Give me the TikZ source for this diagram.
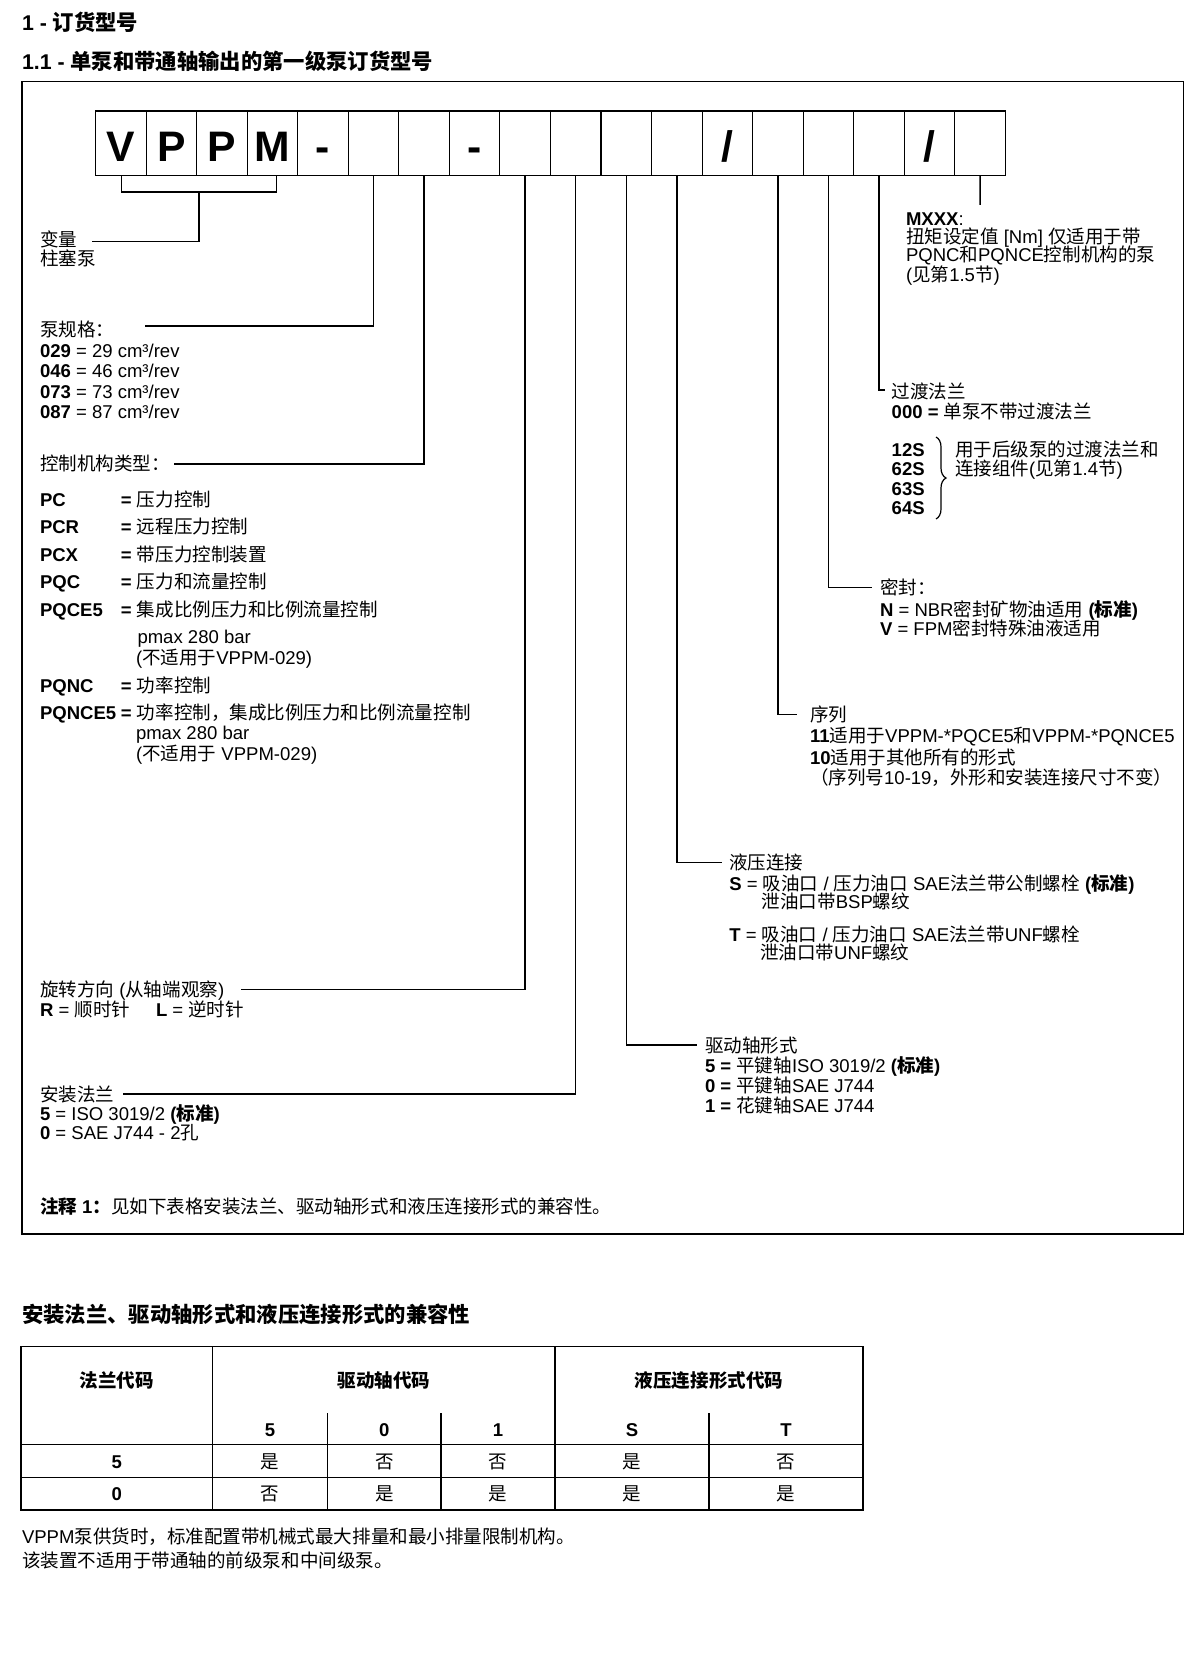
\documentclass[tikz,border=0pt]{standalone}
\usepackage{fontspec}
\setmainfont{Liberation Sans}
\newfontfamily\cjkfont{Noto Sans CJK SC}
\usetikzlibrary{decorations.pathreplacing,calc}
\XeTeXinterchartokenstate=1
\newXeTeXintercharclass\cjkclass
\makeatletter
\def\setcjkrange#1#2{\count@=#1\relax
  \loop\XeTeXcharclass\count@=\cjkclass
  \ifnum\count@<#2\relax\advance\count@\@ne\repeat}
\setcjkrange{"3000}{"303F}
\setcjkrange{"4E00}{"9FFF}
\setcjkrange{"FF00}{"FFEF}
\makeatother
\XeTeXinterchartoks 0 \cjkclass = {\begingroup\cjkfont}
\XeTeXinterchartoks 4095 \cjkclass = {\begingroup\cjkfont}
\XeTeXinterchartoks \cjkclass 0 = {\endgroup}
\XeTeXinterchartoks \cjkclass 4095 = {\endgroup}
\newcommand\ctlrow[2]{\makebox[60.75pt][l]{\textbf{#1}}\textbf{=} #2}
\begin{document}
\begin{tikzpicture}[x=0.75pt,y=-0.75pt,
  every node/.style={inner sep=0pt, outer sep=0pt},
  txt/.style={anchor=base west, font=\fontsize{13.9}{16}\selectfont},
  ctxt/.style={anchor=base, font=\fontsize{13.9}{16}\selectfont},
  ttl/.style={anchor=base west, font=\fontsize{16}{19}\selectfont\bfseries},
  cbox/.style={draw, line width=0.8pt, minimum width=37.9pt, minimum height=48.4pt,
    font=\fontsize{32}{36}\selectfont\bfseries, text height=27.7pt, text depth=0pt, anchor=north west},
  conn/.style={line width=1.1pt},
  grid/.style={line width=1.1pt}
]
\fill[white] (0,0) rectangle (1200,1655);
\useasboundingbox (0,0) rectangle (1200,1655);

% titles
\node[ttl] (t1) at (22,31) {1 - 订货型号};
\node[ttl] (t2) at (22,69.5) {1.1 - 单泵和带通轴输出的第一级泵订货型号};

% frame
\draw[line width=1.1pt] (21.8,81.7) rectangle (1183.3,1233.8);

% code boxes
\node[cbox] (b1)  at (95.5,111) {V};
\node[cbox] (b2)  at (146.05,111) {P};
\node[cbox] (b3)  at (196.6,111) {P};
\node[cbox] (b4)  at (247.15,111) {M};
\node[cbox] (b5)  at (297.7,111) {-};
\node[cbox] (b6)  at (348.25,111) {};
\node[cbox] (b7)  at (398.8,111) {};
\node[cbox] (b8)  at (449.35,111) {-};
\node[cbox] (b9)  at (499.9,111) {};
\node[cbox] (b10) at (550.45,111) {};
\node[cbox] (b11) at (601,111) {};
\node[cbox] (b12) at (651.55,111) {};
\node[cbox] (b13) at (702.1,111) {/};
\node[cbox] (b14) at (752.65,111) {};
\node[cbox] (b15) at (803.2,111) {};
\node[cbox] (b16) at (853.75,111) {};
\node[cbox] (b17) at (904.3,111) {/};
\node[cbox] (b18) at (954.85,111) {};

% connector end points
\coordinate (bra) at (199,192);
\coordinate (cvar) at (92,241.5);
\coordinate (c6) at (145,326);
\coordinate (c7) at (174.3,464);
\coordinate (c9) at (241,989.3);
\coordinate (c10) at (122.8,1094);
\coordinate (c11) at (697.3,1045);
\coordinate (c12) at (721.7,862.7);
\coordinate (c14) at (797.3,714.3);
\coordinate (c15) at (871.7,587.7);
\coordinate (c16) at (885,390);
\coordinate (c18) at (980.1,205);

\draw[conn] ([xshift=0.7pt]b1.south) |- (bra) -| ([xshift=3.2pt]b4.south);
\draw[conn] (bra) |- (cvar);
\draw[conn] (b6.south) |- (c6);
\draw[conn] (b7.south) |- (c7);
\draw[conn] (b9.south) |- (c9);
\draw[conn] (b10.south) |- (c10);
\draw[conn] (b11.south) |- (c11);
\draw[conn] (b12.south) |- (c12);
\draw[conn] (b14.south) |- (c14);
\draw[conn] (b15.south) |- (c15);
\draw[conn] (b16.south) |- (c16);
\draw[conn] (b18.south) -- (c18);

% left texts
\node[txt] (var1) at (40,247) {变量};
\node[txt] (var2) at (40,265.3) {柱塞泵};
\node[txt] (sz0) at (40,336) {泵规格：};
\node[txt] (sz1) at (40,357) {\textbf{029} = 29 cm³/rev};
\node[txt] (sz2) at (40,377.7) {\textbf{046} = 46 cm³/rev};
\node[txt] (sz3) at (40,398) {\textbf{073} = 73 cm³/rev};
\node[txt] (sz4) at (40,418.7) {\textbf{087} = 87 cm³/rev};
\node[txt] (ct0) at (40,470.3) {控制机构类型：};
\node[txt] (ct1) at (40,506.3) {\ctlrow{PC}{压力控制}};
\node[txt] (ct2) at (40,533.7) {\ctlrow{PCR}{远程压力控制}};
\node[txt] (ct3) at (40,561) {\ctlrow{PCX}{带压力控制装置}};
\node[txt] (ct4) at (40,588.7) {\ctlrow{PQC}{压力和流量控制}};
\node[txt] (ct5) at (40,616.3) {\ctlrow{PQCE5}{集成比例压力和比例流量控制}};
\node[txt] (ct5a) at (137.5,643.7) {pmax 280 bar};
\node[txt] (ct5b) at (136,664.3) {(不适用于VPPM-029)};
\node[txt] (ct6) at (40,692) {\ctlrow{PQNC}{功率控制}};
\node[txt] (ct7) at (40,719.3) {\ctlrow{PQNCE5}{功率控制，集成比例压力和比例流量控制}};
\node[txt] (ct7a) at (136,739.7) {pmax 280 bar};
\node[txt] (ct7b) at (136,760.3) {(不适用于 VPPM-029)};
\node[txt] (rot0) at (40,996.3) {旋转方向 (从轴端观察)};
\node[txt] (rot1) at (40,1016.3) {\textbf{R} = 顺时针};
\node[txt] (rot2) at (156,1016.3) {\textbf{L} = 逆时针};
\node[txt] (mf0) at (40,1101) {安装法兰};
\node[txt] (mf1) at (40,1120.3) {\textbf{5} = ISO 3019/2 \textbf{(标准)}};
\node[txt] (mf2) at (40,1139.7) {\textbf{0} = SAE J744 - 2孔};
\node[txt] (note) at (40,1213.7) {\textbf{注释 1：}见如下表格安装法兰、驱动轴形式和液压连接形式的兼容性。};

% right texts
\node[txt] (mx0) at (906,225.3) {\textbf{MXXX}:};
\node[txt] (mx1) at (906,243.7) {扭矩设定值 [Nm] 仅适用于带};
\node[txt] (mx2) at (906,262) {PQNC和PQNCE控制机构的泵};
\node[txt] (mx3) at (906,281.3) {(见第1.5节)};
\node[txt] (tf0) at (891.7,398.7) {过渡法兰};
\node[txt] (tf1) at (891.7,418.7) {\textbf{000 =} 单泵不带过渡法兰};
\node[txt] (tf2) at (891.7,456.3) {\textbf{12S}};
\node[txt] (tf3) at (891.7,475.3) {\textbf{62S}};
\node[txt] (tf4) at (891.7,495.3) {\textbf{63S}};
\node[txt] (tf5) at (891.7,514.7) {\textbf{64S}};
\coordinate (br1) at (936,437);
\coordinate (br2) at (936,519);
\draw[line width=0.9pt, decorate, decoration={brace, amplitude=7.5pt}] (br1) -- (br2);
\node[txt] (tf6) at (955,456.3) {用于后级泵的过渡法兰和};
\node[txt] (tf7) at (955,475.3) {连接组件(见第1.4节)};
\node[txt] (se0) at (880,594.7) {密封：};
\node[txt] (se1) at (880,616.3) {\textbf{N} = NBR密封矿物油适用 \textbf{(标准)}};
\node[txt] (se2) at (880,635.3) {\textbf{V} = FPM密封特殊油液适用};
\node[txt] (sq0) at (810,721.3) {序列};
\node[txt] (sq1) at (810,742) {\textbf{11}适用于VPPM-*PQCE5和VPPM-*PQNCE5};
\node[txt] (sq2) at (810,764.3) {\textbf{10}适用于其他所有的形式};
\node[txt] (sq3) at (810,784.7) {（序列号10-19，外形和安装连接尺寸不变）};
\node[txt] (hy0) at (729.3,869.7) {液压连接};
\node[txt] (hy1) at (729.3,890.3) {\textbf{S} = 吸油口 / 压力油口 SAE法兰带公制螺栓 \textbf{(标准)}};
\node[txt] (hy2) at (761.7,908.7) {泄油口带BSP螺纹};
\node[txt] (hy3) at (729.3,941) {\textbf{T} = 吸油口 / 压力油口 SAE法兰带UNF螺栓};
\node[txt] (hy4) at (760,959.7) {泄油口带UNF螺纹};
\node[txt] (ds0) at (705,1052) {驱动轴形式};
\node[txt] (ds1) at (705,1072.7) {\textbf{5 =} 平键轴ISO 3019/2 \textbf{(标准)}};
\node[txt] (ds2) at (705,1092.7) {\textbf{0 =} 平键轴SAE J744};
\node[txt] (ds3) at (705,1112) {\textbf{1 =} 花键轴SAE J744};

% compatibility table
\node[ttl] (tt) at (22,1322.7) {安装法兰、驱动轴形式和液压连接形式的兼容性};
\draw[grid] (21,1346.7) rectangle (863,1510);
\draw[grid] (212.5,1346.7) -- (212.5,1510);
\draw[grid] (555,1346.7) -- (555,1510);
\draw[grid] (327.4,1413.3) -- (327.4,1510);
\draw[grid] (441.2,1413.3) -- (441.2,1510);
\draw[grid] (709.2,1413.3) -- (709.2,1510);
\draw[grid] (21,1444.3) -- (863,1444.3);
\draw[grid] (21,1477.3) -- (863,1477.3);
\node[ctxt,font=\fontsize{13.9}{16}\selectfont\bfseries] (h1) at (116.8,1387) {法兰代码};
\node[ctxt,font=\fontsize{13.9}{16}\selectfont\bfseries] (h2) at (383.8,1387) {驱动轴代码};
\node[ctxt,font=\fontsize{13.9}{16}\selectfont\bfseries] (h3) at (709,1387) {液压连接形式代码};
\node[ctxt,font=\fontsize{13.9}{16}\selectfont\bfseries] (s5) at (270,1436) {5};
\node[ctxt,font=\fontsize{13.9}{16}\selectfont\bfseries] (s0) at (384.3,1436) {0};
\node[ctxt,font=\fontsize{13.9}{16}\selectfont\bfseries] (s1) at (498.1,1436) {1};
\node[ctxt,font=\fontsize{13.9}{16}\selectfont\bfseries] (sS) at (632.1,1436) {S};
\node[ctxt,font=\fontsize{13.9}{16}\selectfont\bfseries] (sT) at (786,1436) {T};
\node[ctxt,font=\fontsize{13.9}{16}\selectfont\bfseries] (r1) at (116.8,1468.7) {5};
\node[ctxt] (r1a) at (270,1468.7) {是};
\node[ctxt] (r1b) at (384.3,1468.7) {否};
\node[ctxt] (r1c) at (498.1,1468.7) {否};
\node[ctxt] (r1d) at (632.1,1468.7) {是};
\node[ctxt] (r1e) at (786,1468.7) {否};
\node[ctxt,font=\fontsize{13.9}{16}\selectfont\bfseries] (r2) at (116.8,1500.3) {0};
\node[ctxt] (r2a) at (270,1500.3) {否};
\node[ctxt] (r2b) at (384.3,1500.3) {是};
\node[ctxt] (r2c) at (498.1,1500.3) {是};
\node[ctxt] (r2d) at (632.1,1500.3) {是};
\node[ctxt] (r2e) at (786,1500.3) {是};

\node[txt] (n1) at (22,1543.7) {VPPM泵供货时，标准配置带机械式最大排量和最小排量限制机构。};
\node[txt] (n2) at (22,1567) {该装置不适用于带通轴的前级泵和中间级泵。};
\end{tikzpicture}
\end{document}
